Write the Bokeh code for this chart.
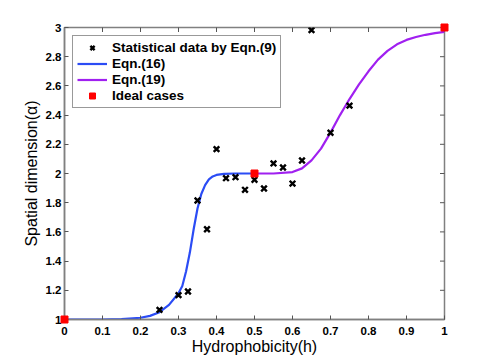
from bokeh.plotting import figure
from bokeh.models import FixedTicker, Range1d, Legend, LegendItem
from bokeh.embed import file_html
from bokeh.resources import INLINE
import math

# Statistical data by Eqn.(9)
stat_h = [0.25, 0.30, 0.325, 0.35, 0.375, 0.40, 0.425, 0.45, 0.475, 0.50, 0.525, 0.55, 0.575, 0.60, 0.625, 0.65, 0.70, 0.75]
stat_a = [1.066, 1.167, 1.192, 1.815, 1.618, 2.167, 1.968, 1.975, 1.888, 1.957, 1.897, 2.069, 2.041, 1.931, 2.089, 2.982, 2.279, 2.465]

# Eqn.(16) curve
eq16_h = [0.0, 0.05, 0.10, 0.15, 0.20, 0.225, 0.25, 0.275, 0.30, 0.31, 0.32, 0.33, 0.34, 0.35, 0.36, 0.37, 0.38, 0.39, 0.40, 0.42, 0.45, 0.50]
eq16_a = [1.0, 1.0, 1.0, 1.003, 1.012, 1.025, 1.05, 1.10, 1.18, 1.23, 1.33, 1.46, 1.62, 1.76, 1.86, 1.92, 1.96, 1.98, 1.99, 1.997, 2.0, 2.0]

# Eqn.(19) curve
eq19_h = [0.50, 0.55, 0.60, 0.625, 0.65, 0.675, 0.70, 0.725, 0.75, 0.775, 0.80, 0.825, 0.85, 0.875, 0.90, 0.925, 0.95, 0.975, 1.0]
eq19_a = [2.0, 2.0, 2.01, 2.035, 2.09, 2.17, 2.28, 2.40, 2.51, 2.61, 2.70, 2.78, 2.84, 2.885, 2.915, 2.935, 2.95, 2.962, 2.97]

# Ideal cases
ideal_h = [0.0, 0.5, 1.0]
ideal_a = [1.0, 2.0, 3.0]

x_ticks = [0, 0.1, 0.2, 0.3, 0.4, 0.5, 0.6, 0.7, 0.8, 0.9, 1]
x_labels = ["0", "0.1", "0.2", "0.3", "0.4", "0.5", "0.6", "0.7", "0.8", "0.9", "1"]
y_ticks = [1, 1.2, 1.4, 1.6, 1.8, 2, 2.2, 2.4, 2.6, 2.8, 3]
y_labels = ["1", "1.2", "1.4", "1.6", "1.8", "2", "2.2", "2.4", "2.6", "2.8", "3"]

FONT = "Liberation Sans"
GRAY = "#808080"
TICK = "#555555"

x_min, x_max = x_ticks[0], x_ticks[-1]
y_min, y_max = y_ticks[0], y_ticks[-1]

p = figure(width=491, height=359, output_backend="svg", toolbar_location=None,
           x_range=Range1d(x_min, x_max), y_range=Range1d(y_min, y_max),
           min_border_left=64, min_border_right=47, min_border_top=27, min_border_bottom=40)
p.xgrid.visible = False
p.ygrid.visible = False
p.outline_line_color = GRAY
p.outline_line_width = 1.5
p.background_fill_color = "white"
p.border_fill_color = "white"

def style_axis(ax, ticks, labels):
    ax.ticker = FixedTicker(ticks=ticks)
    ax.major_label_overrides = {t: l for t, l in zip(ticks, labels)}
    ax.axis_line_color = GRAY
    ax.axis_line_width = 1.5
    ax.major_tick_in = 4
    ax.major_tick_out = 0
    ax.major_tick_line_color = TICK
    ax.minor_tick_line_color = None
    ax.major_label_text_font = FONT
    ax.major_label_text_font_style = "bold"
    ax.major_label_text_font_size = "11.5px"
    ax.major_label_text_color = "black"

style_axis(p.xaxis[0], x_ticks, x_labels)
style_axis(p.yaxis[0], y_ticks, y_labels)
p.xaxis[0].major_label_standoff = 7
p.yaxis[0].major_label_standoff = 3
p.xaxis.axis_label = "Hydrophobicity(h)"
p.yaxis.axis_label = "Spatial dimension(\u03b1)"
for ax in (p.xaxis[0], p.yaxis[0]):
    ax.axis_label_text_font = FONT
    ax.axis_label_text_font_style = "normal"
    ax.axis_label_text_font_size = "16px"
    ax.axis_label_text_color = "black"
p.xaxis[0].axis_label_standoff = 0
p.yaxis[0].axis_label_standoff = 3

# inward ticks on top and right edges (outer half clipped by the frame)
p.scatter(x_ticks, [y_max] * len(x_ticks), marker="dash", size=9, angle=math.pi / 2,
          line_color=TICK, line_width=1)
p.scatter([x_max] * len(y_ticks), y_ticks, marker="dash", size=9,
          line_color=TICK, line_width=1)

r16 = p.line(eq16_h, eq16_a, line_color="#2b4cf5", line_width=2.2)
r19 = p.line(eq19_h, eq19_a, line_color="#a020f0", line_width=2.2)
rs = p.scatter(stat_h, stat_a, marker="x", size=8, line_color="black", line_width=2.4)
ri = p.scatter(ideal_h, ideal_a, marker="square", size=7, fill_color="#ff0000", line_color="#ff0000", level="overlay")

legend = Legend(items=[
    LegendItem(label="Statistical data by Eqn.(9)", renderers=[rs]),
    LegendItem(label="Eqn.(16)", renderers=[r16]),
    LegendItem(label="Eqn.(19)", renderers=[r19]),
    LegendItem(label="Ideal cases", renderers=[ri]),
], location="top_left")
legend.margin = 8
legend.padding = 4
legend.spacing = 1
legend.glyph_width = 30
legend.glyph_height = 15
legend.label_height = 15
legend.label_standoff = 5
legend.label_text_font = FONT
legend.label_text_font_style = "bold"
legend.label_text_font_size = "13.5px"
legend.label_text_color = "black"
legend.border_line_color = "#333333"
legend.border_line_width = 1
legend.background_fill_alpha = 1
p.add_layout(legend)

open("out.html", "w").write(file_html(p, INLINE))
